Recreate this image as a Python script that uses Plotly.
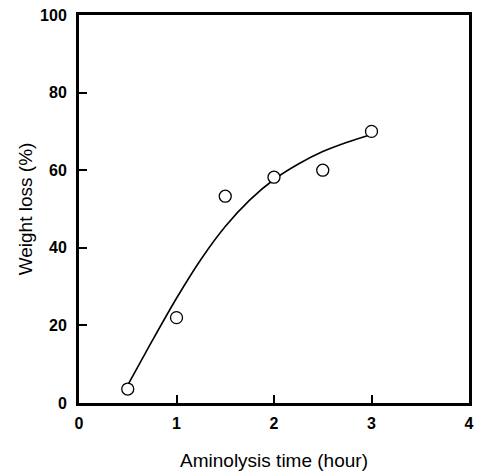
import plotly.graph_objects as go

# Measured data points
time_h = [0.5, 1.0, 1.5, 2.0, 2.5, 3.0]
weight_loss = [3.6, 22.0, 53.3, 58.2, 60.0, 70.0]

# Fitted curve
curve_x = [0.5, 0.75, 1.0, 1.25, 1.5, 1.75, 2.0, 2.25, 2.5, 2.75, 3.0]
curve_y = [4.6, 16.0, 27.0, 37.0, 45.5, 52.3, 57.6, 61.6, 64.8, 67.2, 69.2]

x_ticks = [0, 1, 2, 3, 4]
y_ticks = [0, 20, 40, 60, 80, 100]

fig = go.Figure()
fig.add_trace(go.Scatter(x=curve_x, y=curve_y, mode="lines",
                         line=dict(color="black", width=1.6, shape="spline", smoothing=0.8),
                         hoverinfo="skip", showlegend=False))
fig.add_trace(go.Scatter(x=time_h, y=weight_loss, mode="markers",
                         marker=dict(symbol="circle", size=12, color="white",
                                     line=dict(color="black", width=1.3)),
                         showlegend=False))

axis_common = dict(showline=True, linewidth=3, linecolor="black", mirror=True,
                   ticks="inside", ticklen=8, tickwidth=1.5, tickcolor="black",
                   showgrid=False, zeroline=False,
                   tickfont=dict(family="Liberation Sans", size=16, color="black", weight="bold"))

fig.update_xaxes(range=[0, 4], tickvals=x_ticks, ticktext=[str(v) for v in x_ticks],
                 ticklabelstandoff=4,
                 title=dict(text="Aminolysis time (hour)", standoff=23,
                            font=dict(family="Liberation Sans", size=19, color="black")),
                 **axis_common)
fig.update_yaxes(range=[0, 100], tickvals=y_ticks, ticktext=[str(v) for v in y_ticks],
                 ticklabelstandoff=6,
                 title=dict(text="Weight loss (%)", standoff=3,
                            font=dict(family="Liberation Sans", size=19, color="black")),
                 **axis_common)

fig.update_layout(width=481, height=476,
                  margin=dict(l=79, r=7, t=15, b=71),
                  paper_bgcolor="white", plot_bgcolor="white")

fig.write_html("out.html")
